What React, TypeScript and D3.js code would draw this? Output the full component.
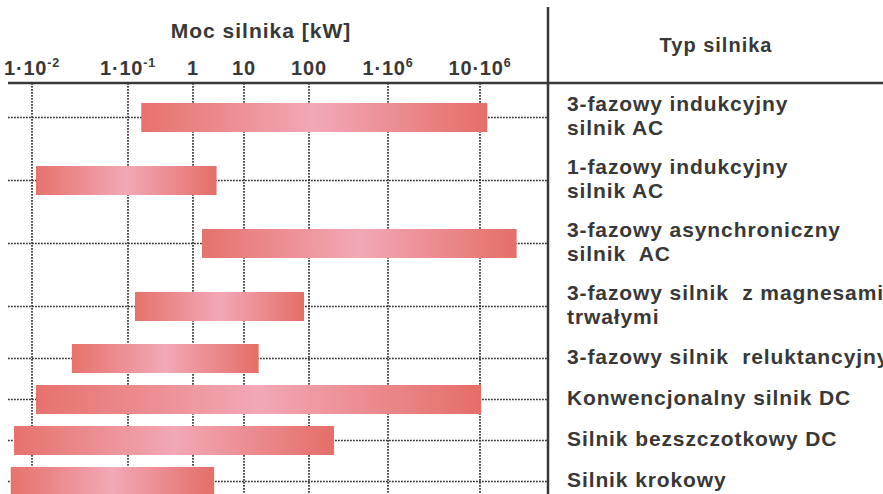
import React from "react";
import * as d3 from "d3";

// ---- data ----
const motorTypes: string[] = [
  "3-fazowy indukcyjny\nsilnik AC",
  "1-fazowy indukcyjny\nsilnik AC",
  "3-fazowy asynchroniczny\nsilnik  AC",
  "3-fazowy silnik  z magnesami\ntrwałymi",
  "3-fazowy silnik  reluktancyjny",
  "Konwencjonalny silnik DC",
  "Silnik bezszczotkowy DC",
  "Silnik krokowy",
];
const powerMinKW: number[] = [0.16, 0.011, 1.5, 0.128, 0.026, 0.011, 0.0065, 0.006];
const powerMaxKW: number[] = [1.2e7, 2.9, 2.5e7, 84, 16.8, 1.03e7, 1850, 2.6];
const tickValues: number[] = [0.01, 0.1, 1, 10, 100, 1e6, 1e7];
const tickBase: string[] = ["1·10", "1·10", "1", "10", "100", "1·10", "10·10"];
const tickSup: string[] = ["-2", "-1", "", "", "", "6", "6"];
const axisTitle = "Moc silnika [kW]";
const typeTitle = "Typ silnika";

// ---- layout ----
const W = 883;
const H = 494;
const headerY = 83;
const dividerX = 548;
const rowsTop = 86;
const axisStops = [32, 128, 193, 244, 309, 388, 480]; // hand-drawn, non-uniform axis
const barH = 29;
const ink = "#383838";
const font = "'Liberation Sans', Arial, Helvetica, sans-serif";

export default function App() {
  const x = d3
    .scaleLinear()
    .domain(tickValues.map((v) => Math.log10(v)))
    .range(axisStops);
  const xp = (v: number) => x(Math.log10(v));

  const lines = motorTypes.map((t) => t.split("\n"));
  const heights = lines.map((l) => 19 + 22 * l.length);
  const centers: number[] = [];
  let acc = rowsTop;
  heights.forEach((h) => {
    centers.push(acc + h / 2);
    acc += h;
  });

  const dotted = { stroke: "#333", strokeWidth: 1.7, strokeDasharray: "1.8 1.2" };

  return (
    <svg
      width={W}
      height={H}
      style={{ position: "absolute", left: 0, top: 0, background: "#fff" }}
      fontFamily={font}
    >
      <defs>
        <linearGradient id="barGrad" x1="0" x2="1" y1="0" y2="0">
          <stop offset="0" stopColor="#e6726c" />
          <stop offset="0.5" stopColor="#f2a8b6" />
          <stop offset="1" stopColor="#e56e68" />
        </linearGradient>
      </defs>
      <rect width={W} height={H} fill="#fff" />

      {/* vertical grid */}
      {tickValues.map((v, i) => (
        <line key={"vg" + i} x1={xp(v)} x2={xp(v)} y1={headerY} y2={H} {...dotted} />
      ))}
      {/* horizontal grid */}
      {centers.map((c, i) => (
        <line key={"hg" + i} x1={8} x2={dividerX} y1={c} y2={c} {...dotted} />
      ))}

      {/* bars */}
      {motorTypes.map((_, i) => (
        <rect
          key={"b" + i}
          x={xp(powerMinKW[i])}
          width={xp(powerMaxKW[i]) - xp(powerMinKW[i])}
          y={centers[i] - barH / 2}
          height={barH}
          fill="url(#barGrad)"
        />
      ))}

      {/* frame */}
      <line x1={8} x2={W} y1={headerY} y2={headerY} stroke={ink} strokeWidth={2.6} />
      <line x1={dividerX} x2={dividerX} y1={7} y2={H} stroke={ink} strokeWidth={2.5} />

      {/* titles */}
      <text x={261} y={38} textAnchor="middle" fontSize={21} fontWeight="bold" fill={ink} letterSpacing={1}>
        {axisTitle}
      </text>
      <text x={716} y={52} textAnchor="middle" fontSize={20} fontWeight="bold" fill={ink} letterSpacing={1}>
        {typeTitle}
      </text>

      {/* tick labels */}
      {tickValues.map((v, i) => (
        <text
          key={"tl" + i}
          x={xp(v)}
          y={75}
          textAnchor="middle"
          fontSize={20}
          fontWeight="bold"
          fill={ink}
          letterSpacing={0.8}
        >
          {tickBase[i]}
          {tickSup[i] ? (
            <tspan fontSize={12.5} dy={-8.5}>
              {tickSup[i]}
            </tspan>
          ) : null}
        </text>
      ))}

      {/* row labels */}
      {lines.map((ls, i) => (
        <text
          key={"rl" + i}
          x={567}
          fontSize={21}
          fontWeight="bold"
          fill={ink}
          letterSpacing={0.9}
          style={{ whiteSpace: "pre" }}
        >
          {ls.map((t, j) => (
            <tspan key={j} x={567} y={centers[i] + 5.5 + (j - (ls.length - 1) / 2) * 24.5}>
              {t}
            </tspan>
          ))}
        </text>
      ))}
    </svg>
  );
}
